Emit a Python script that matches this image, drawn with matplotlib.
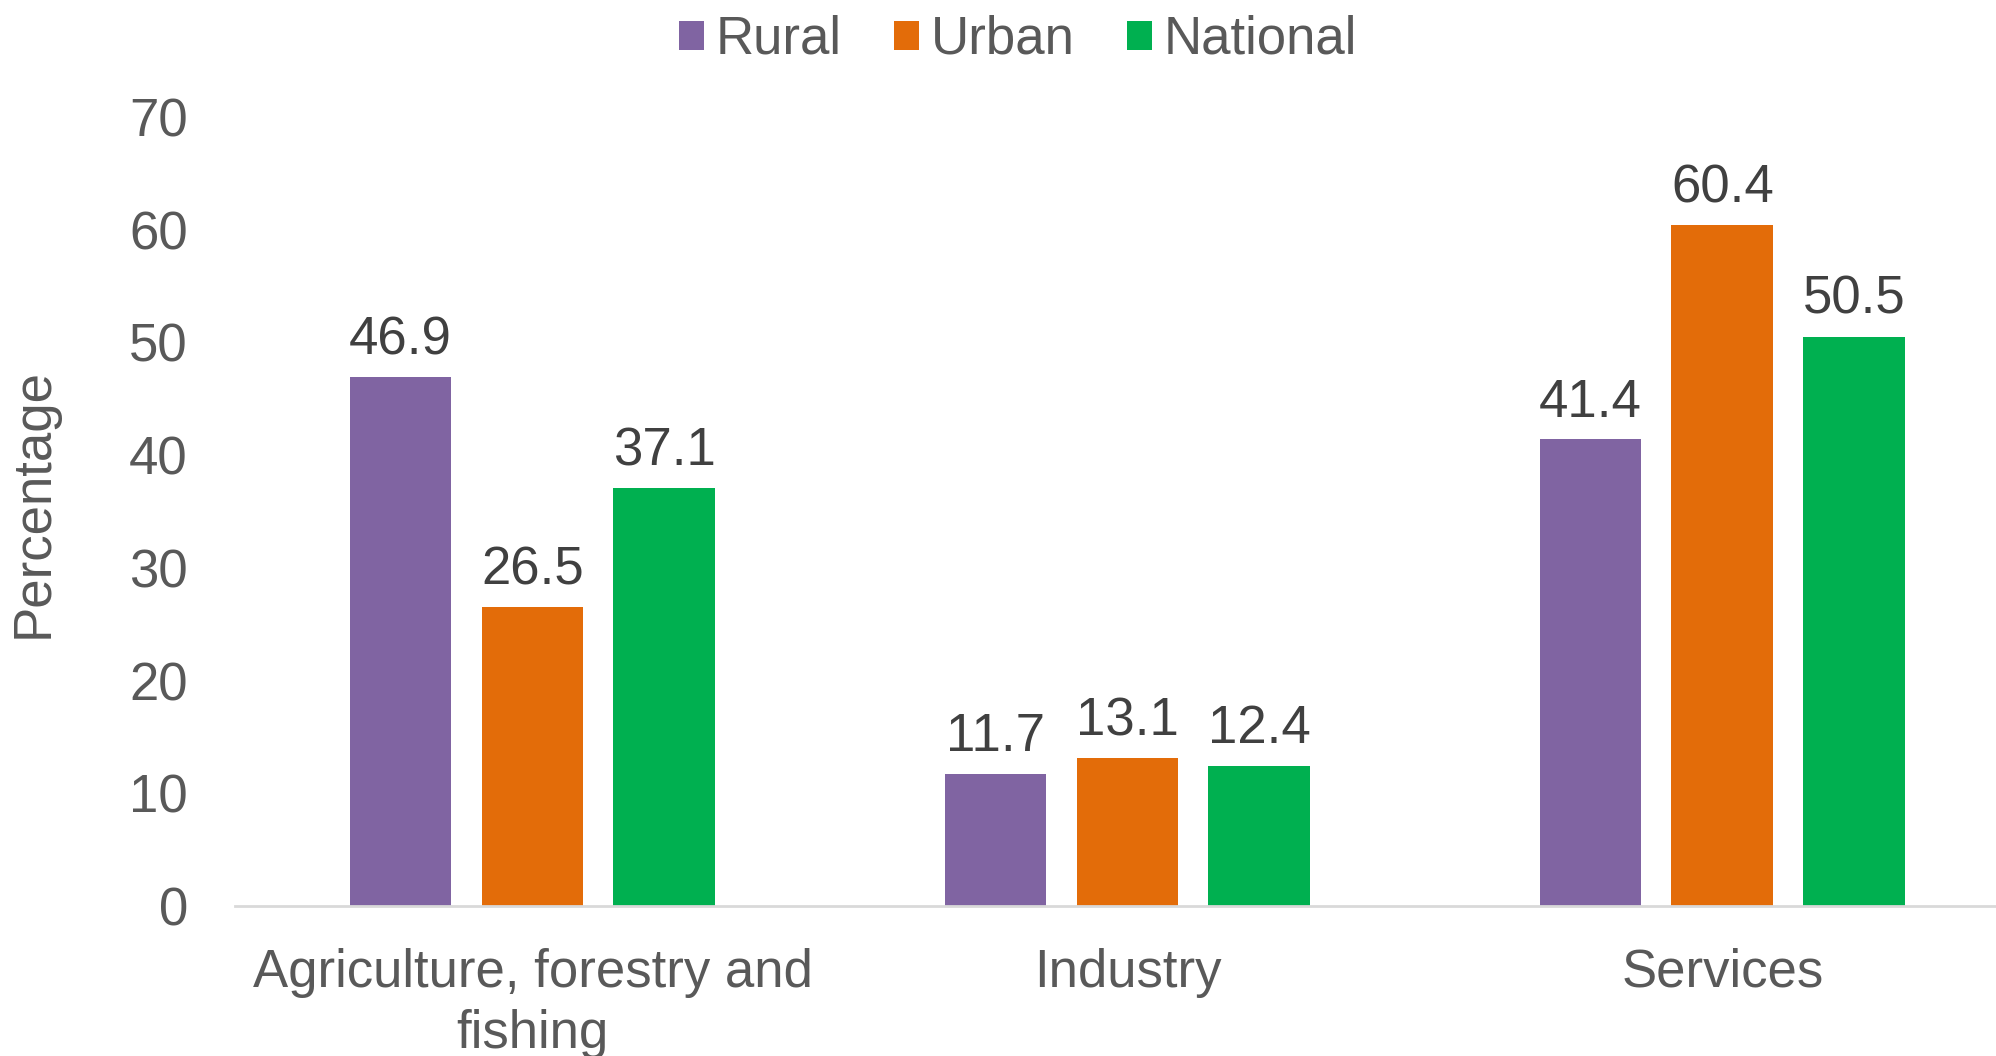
import numpy as np
import matplotlib.pyplot as plt

plt.rcParams['font.family'] = ['Liberation Sans', 'DejaVu Sans']

sectors = ['Agriculture, forestry and\nfishing', 'Industry', 'Services']
rural = [46.9, 11.7, 41.4]
urban = [26.5, 13.1, 60.4]
national = [37.1, 12.4, 50.5]
series = ['Rural', 'Urban', 'National']
colori = ['#8064A2', '#E36C09', '#00B050']

fs = 38

fig = plt.figure(figsize=(19.96, 10.56), dpi=100)
ax = fig.add_axes([235/1996, 150/1056, 1 - 235/1996, (906-117)/1056])

x = np.arange(len(sectors))
w = 0.171
passo = 0.2216
for i, (vals, nome, c) in enumerate(zip([rural, urban, national], series, colori)):
    pos = x + (i - 1) * passo
    bars = ax.bar(pos, vals, width=w, color=c, label=nome, zorder=2)
    for b, v in zip(bars, vals):
        ax.annotate(f'{v:.1f}', (b.get_x() + b.get_width()/2, v), xytext=(0, 8.5),
                    textcoords='offset points', ha='center', va='bottom',
                    fontsize=fs, color='#404040')

ax.set_ylim(0, 70)
ax.set_xlim(-0.5, 2.46)
ax.set_yticks(range(0, 71, 10))
ax.set_xticks(x)
ax.set_xticklabels(sectors, fontsize=fs, color='#595959', linespacing=1.28)
ax.tick_params(axis='y', labelsize=fs, labelcolor='#595959', length=0, pad=34)
ax.tick_params(axis='x', length=0, pad=30)
for s in ['top', 'right', 'left']:
    ax.spines[s].set_visible(False)
ax.spines['bottom'].set_color('#D9D9D9')
ax.spines['bottom'].set_linewidth(2)

# etichetta asse y
fig.text(34/1996, 1 - 503/1056, 'Percentage', rotation=90, ha='center', va='center',
         fontsize=fs, color='#595959')

fig.legend(loc='center', bbox_to_anchor=(0.51, 1 - 40/1056), ncol=3, frameon=False,
           fontsize=fs, labelcolor='#595959', handlelength=0.47, handleheight=0.47,
           handletextpad=0.22, columnspacing=1.0, borderpad=0)

fig.savefig('out.png', dpi=100)
